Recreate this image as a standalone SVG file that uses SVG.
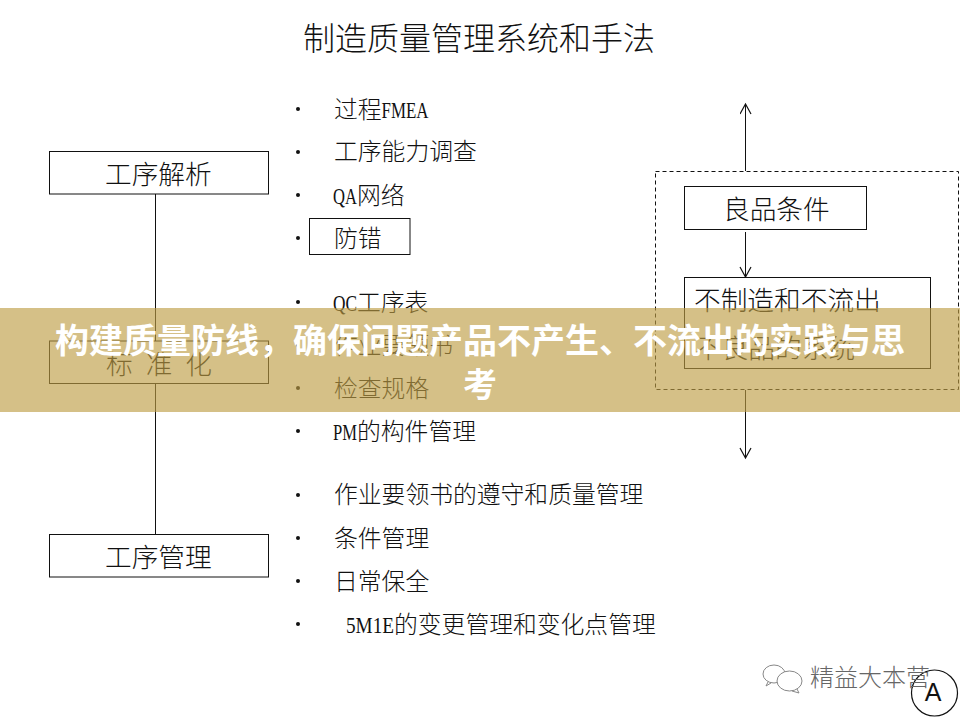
<svg xmlns="http://www.w3.org/2000/svg" width="960" height="720" viewBox="0 0 960 720">
<style>
text{font-family:"Noto Sans CJK SC","Noto Sans CJK JP",sans-serif;font-weight:300;fill:#111}
.b{fill:#fff;stroke:#111;stroke-width:1}
.li{font-size:23.8px}
.n{font-size:26.7px}
.lat{font-family:"Liberation Serif",serif;font-weight:400;font-size:23px}
.l{stroke:#111;stroke-width:1;fill:none}
</style>
<defs>
<marker id="ah" markerWidth="14" markerHeight="14" refX="11" refY="6" orient="auto" markerUnits="userSpaceOnUse"><path d="M1 0.5L11 6L1 11.5" fill="none" stroke="#111" stroke-width="1.2"/></marker>
</defs>
<rect width="960" height="720" fill="#fff"/>
<text id="title" x="303" y="50" font-size="32" textLength="352">制造质量管理系统和手法</text>
<g id="connectors">
<path class="l" d="M155.500 194V534"/>
<path class="l" d="M745.500 171V104" marker-end="url(#ah)"/>
<path class="l" d="M745.500 232V277" marker-end="url(#ah)"/>
<path class="l" d="M745.500 390V458" marker-end="url(#ah)"/>
</g>
<g id="frame"><rect x="655.500" y="171.500" width="303" height="218" fill="none" stroke="#111" stroke-dasharray="4 3"/></g>
<g id="n1"><rect class="b" x="49.500" y="151.500" width="219" height="42.500"/><text class="n" x="105" y="183.500">工序解析</text></g>
<g id="n2"><rect class="b" x="49.500" y="341" width="219" height="42.500"/><text class="n" x="106" y="374" textLength="106">标 准 化</text></g>
<g id="n3"><rect class="b" x="49.500" y="534.500" width="219" height="42.500"/><text class="n" x="105" y="567">工序管理</text></g>
<g id="n4"><rect class="b" x="309.500" y="218.500" width="100.500" height="36"/><text class="li" x="334" y="247">防错</text></g>
<g id="n5"><rect class="b" x="684.500" y="186.500" width="182" height="43"/><text class="n" x="723" y="219">良品条件</text></g>
<g id="n6"><rect class="b" x="684.500" y="277.500" width="246" height="91"/><text class="n" x="694" y="310">不制造和不流出</text><text class="n" x="695" y="358">不良品的系统</text></g>
<g id="list">
<g fill="#111"><circle cx="298" cy="109" r="2"/><circle cx="298" cy="152" r="2"/><circle cx="298" cy="195" r="2"/><circle cx="298" cy="238" r="2"/><circle cx="298" cy="302" r="2"/><circle cx="298" cy="345" r="2"/><circle cx="298" cy="388" r="2"/><circle cx="298" cy="431" r="2"/><circle cx="298" cy="495" r="2"/><circle cx="298" cy="538" r="2"/><circle cx="298" cy="581" r="2"/><circle cx="298" cy="624" r="2"/></g>
<text class="li" x="334" y="118">过程<tspan class="lat" textLength="47" lengthAdjust="spacingAndGlyphs">FMEA</tspan></text>
<text class="li" x="334" y="160">工序能力调查</text>
<text class="li" x="333" y="204"><tspan class="lat" textLength="24" lengthAdjust="spacingAndGlyphs">QA</tspan>网络</text>
<text class="li" x="333" y="311"><tspan class="lat" textLength="24" lengthAdjust="spacingAndGlyphs">QC</tspan>工序表</text>
<text class="li" x="334" y="354">作业要领书</text>
<text class="li" x="334" y="397">检查规格</text>
<text class="li" x="333" y="440"><tspan class="lat" textLength="24" lengthAdjust="spacingAndGlyphs">PM</tspan>的构件管理</text>
<text class="li" x="334" y="503">作业要领书的遵守和质量管理</text>
<text class="li" x="334" y="547">条件管理</text>
<text class="li" x="334" y="590">日常保全</text>
<text class="li" x="346" y="633"><tspan class="lat" textLength="48" lengthAdjust="spacingAndGlyphs">5M1E</tspan>的变更管理和变化点管理</text>
</g>
<g id="badge"><circle cx="934.500" cy="693" r="23" fill="none" stroke="#111" stroke-width="1.200"/><text x="933" y="701" font-size="25" text-anchor="middle" style="font-family:'Liberation Sans',sans-serif;font-weight:400">A</text></g>
<g id="watermark" fill="none" stroke="#888" stroke-width="1">
<ellipse cx="774" cy="674" rx="11" ry="9"/>
<ellipse cx="789.500" cy="681" rx="12.500" ry="10" fill="#fff"/>
<path d="M797 689L799 693L792 691M768 682L766 686L771 683"/>
<text x="810" y="686" font-size="24" style="fill:#666;stroke:none">精益大本营</text>
</g>
<rect id="banner" x="0" y="308" width="960" height="104" fill="rgb(189,156,67)" fill-opacity="0.64"/>
<g id="caption"><text x="480" y="353" font-size="34" text-anchor="middle" style="fill:#fff;font-weight:700">构建质量防线，确保问题产品不产生、不流出的实践与思</text><text x="480" y="397" font-size="34" text-anchor="middle" style="fill:#fff;font-weight:700">考</text></g>
</svg>
